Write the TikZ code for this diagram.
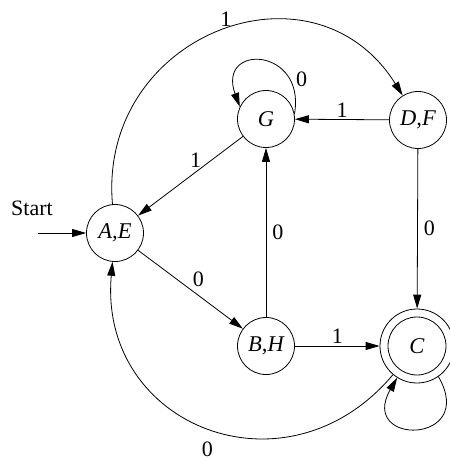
\documentclass[tikz,border=0pt]{standalone}
\usepackage{fontspec}
\setmainfont{Liberation Serif}
\usetikzlibrary{arrows.meta}
\tikzset{
	dfanode/.style={draw, circle, line width=0.8pt, minimum size=57pt, inner sep=0pt, font=\fontsize{22.5}{27}\selectfont\itshape},
	dfaedge/.style={line width=0.8pt, -{Triangle[length=14pt,width=8pt]}},
	dfalabel/.style={font=\fontsize{22}{26}\selectfont, inner sep=2pt}
}

\begin{document}
\begin{tikzpicture}[x=1pt, y=1pt]
		%%%%% START %%%%%
		
		\useasboundingbox (0, 0) rectangle (450, -459);
		
		\node[dfanode] (ae) at (115, -233) {A,E};
		\node[dfanode] (g) at (266, -119) {G};
		\node[dfanode] (df) at (418, -120) {D,F};
		\node[dfanode] (bh) at (266, -346) {B,H};
		\node[dfanode, minimum size=74pt] (c) at (417, -346) {C};
		\draw[line width=0.8pt] (c) circle (29);
		
		\node[dfalabel] (start) at (32, -208) {Start};
		\coordinate (init) at (38, -233);
		\draw[dfaedge] (init) -- (ae);
		
		\draw[dfaedge] (ae) to[out=95, in=122, looseness=1.4] node[dfalabel, pos=0.52, above=1pt] (lae) {1} (df);
		\draw[dfaedge] (df) -- node[dfalabel, above] (ldf) {1} (g);
		\draw[dfaedge] (g) -- node[dfalabel, pos=0.45, above=2pt] (lg) {1} (ae);
		\draw[dfaedge] (g.10) .. controls +(80:68) and +(110:68) .. (g.155) node[dfalabel, pos=0.22, right=4pt] (lgg) {0};
		\draw[dfaedge] (bh) -- node[dfalabel, right=4pt] (lbh) {0} (g);
		\draw[dfaedge] (df) -- node[dfalabel, right=4pt] (ldc) {0} (c);
		\draw[dfaedge] (ae) -- node[dfalabel, above right=0pt] (lab) {0} (bh);
		\draw[dfaedge] (bh) -- node[dfalabel, above] (lbc) {1} (c);
		
		\draw[dfaedge] (c) to[out=230, in=-95, looseness=1.4] node[dfalabel, pos=0.5, below=12pt] (lca) {0} (ae);
		\draw[dfaedge] (c.-55) .. controls +(-60:79) and +(-120:79) .. (c.-122);
		
		%%%%% END %%%%%
	\end{tikzpicture}
\end{document}
